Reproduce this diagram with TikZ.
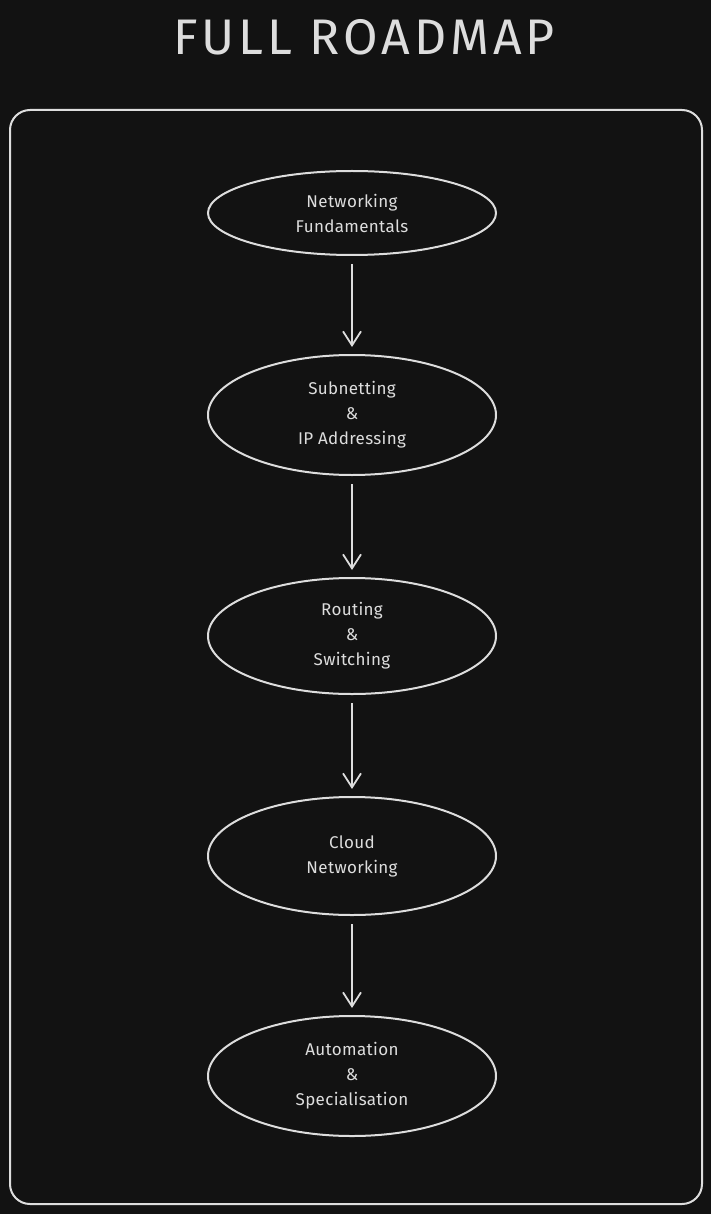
\documentclass[tikz,border=0pt]{standalone}
\usepackage{fontspec}
\setmainfont{Fira Sans}
\usetikzlibrary{arrows.meta,shapes.geometric}
\definecolor{bg}{HTML}{121212}
\definecolor{ink}{HTML}{DDDDDD}
\begin{document}
\begin{tikzpicture}[x=1pt,y=-1pt,
  stage/.style={ellipse,draw=ink,line width=2pt,minimum width=288pt,text=ink,align=center,font=\fontsize{17}{25}\selectfont\addfontfeature{LetterSpace=2}},
  link/.style={draw=ink,line width=1.8pt,shorten <=8pt,shorten >=7pt,-{Straight Barb[length=14pt,width=18pt,line width=1.8pt]}}]
\fill[bg] (0,0) rectangle (711,1214);
\useasboundingbox (0,0) rectangle (711,1214);
\node[text=ink,font=\fontsize{50}{54}\selectfont\addfontfeature{LetterSpace=8}] (title) at (364,37) {FULL ROADMAP};
\draw[ink,line width=2pt,rounded corners=20pt] (10,110) rectangle (702,1204);
\node[stage,minimum height=84pt] (n1) at (352,213) {Networking\\Fundamentals};
\node[stage,minimum height=120pt] (n2) at (352,415) {Subnetting\\\&\\IP Addressing};
\node[stage,minimum height=116pt] (n3) at (352,636) {Routing\\\&\\Switching};
\node[stage,minimum height=118pt] (n4) at (352,856) {Cloud\\Networking};
\node[stage,minimum height=120pt] (n5) at (352,1076) {Automation\\\&\\Specialisation};
\draw[link] (n1) -- (n2);
\draw[link] (n2) -- (n3);
\draw[link] (n3) -- (n4);
\draw[link] (n4) -- (n5);
\end{tikzpicture}
\end{document}
